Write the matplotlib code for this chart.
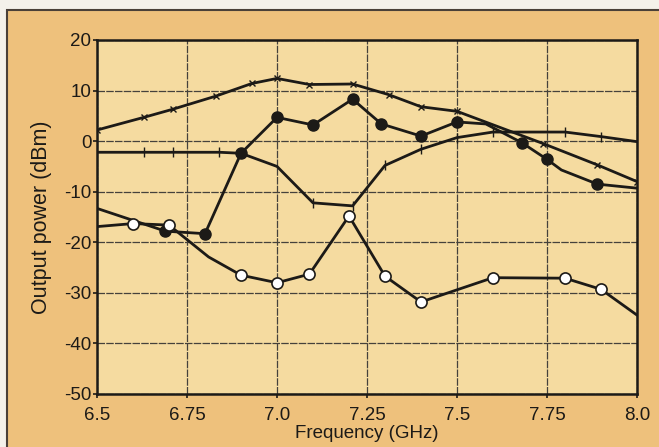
import matplotlib
matplotlib.use("Agg")
import matplotlib.pyplot as plt
from matplotlib.patches import Rectangle

plt.rcParams['font.family'] = ['Liberation Sans Narrow', 'Liberation Sans', 'DejaVu Sans']
plt.rcParams['axes.unicode_minus'] = False

# x-marker curve (top)
f_x = [6.5, 6.63, 6.71, 6.83, 6.93, 7.0, 7.09, 7.21, 7.31, 7.40, 7.50, 7.74, 7.89, 8.0]
p_x = [2.2, 4.7, 6.3, 8.9, 11.4, 12.4, 11.2, 11.3, 9.2, 6.8, 5.9, -0.5, -4.7, -8.0]

# filled-circle curve
f_fill = [6.5, 6.69, 6.8, 6.9, 7.0, 7.1, 7.21, 7.29, 7.4, 7.5, 7.58, 7.68, 7.75, 7.79, 7.89, 8.0]
p_fill = [-13.3, -17.8, -18.3, -2.4, 4.7, 3.2, 8.3, 3.4, 1.0, 3.8, 3.4, -0.3, -3.6, -5.7, -8.5, -9.3]
fill_marked = [1, 2, 3, 4, 5, 6, 7, 8, 9, 11, 12, 14]

# tick-marker curve
f_tick = [6.5, 6.63, 6.71, 6.84, 6.9, 7.0, 7.1, 7.21, 7.3, 7.4, 7.5, 7.6, 7.8, 7.9, 8.0]
p_tick = [-2.2, -2.2, -2.2, -2.2, -2.4, -5.0, -12.2, -12.8, -4.8, -1.6, 0.7, 1.8, 1.8, 0.9, -0.1]
tick_marked = [1, 2, 3, 6, 7, 8, 9, 10, 11, 12, 13]

# open-circle curve
f_open = [6.5, 6.6, 6.7, 6.81, 6.9, 7.0, 7.09, 7.2, 7.3, 7.4, 7.6, 7.8, 7.9, 8.0]
p_open = [-16.9, -16.3, -16.6, -22.9, -26.5, -28.0, -26.3, -14.8, -26.7, -31.8, -27.0, -27.1, -29.3, -34.4]
open_marked = [1, 2, 4, 5, 6, 7, 8, 9, 10, 11, 12]

x_ticks = [6.5, 6.75, 7.0, 7.25, 7.5, 7.75, 8.0]
x_labels = ['6.5', '6.75', '7.0', '7.25', '7.5', '7.75', '8.0']
y_ticks = [-50, -40, -30, -20, -10, 0, 10, 20]

ink = '#1c1a17'
fig = plt.figure(figsize=(6.59, 4.47), dpi=100)
fig.patch.set_facecolor('#f4f1ea')
# page panel behind the chart
fig.add_artist(Rectangle((7 / 659, -0.01), 1.0, 1 - 10 / 447 + 0.01,
                         transform=fig.transFigure, facecolor='#eec17c',
                         edgecolor='#4a4038', linewidth=1.5, zorder=-5))

ax = fig.add_axes([97 / 659, 1 - 394 / 447, 540 / 659, 354 / 447])
ax.set_zorder(1)
ax.set_facecolor('#f5dba0')

lw = 2.0
ax.plot(f_x, p_x, color=ink, lw=lw, marker='x', ms=4, mew=1.0, zorder=3)
ax.plot(f_tick, p_tick, color=ink, lw=lw, marker='|', ms=7, mew=1.0,
        markevery=tick_marked, zorder=3)
ax.plot(f_fill, p_fill, color=ink, lw=lw, marker='o', ms=8,
        markevery=fill_marked, zorder=4)
ax.plot(f_open, p_open, color=ink, lw=lw, marker='o', ms=8, mfc='white',
        mec=ink, mew=1.2, markevery=open_marked, zorder=5)

ax.set_xlim(6.5, 8.0)
ax.set_ylim(-50, 20)
ax.set_xticks(x_ticks)
ax.set_xticklabels(x_labels)
ax.set_yticks(y_ticks)
ax.grid(True, color='#45413b', lw=0.9, ls=(0, (6, 1)))
ax.set_axisbelow(True)
for s in ax.spines.values():
    s.set_color(ink)
    s.set_linewidth(1.8)
ax.tick_params(direction='out', length=3, width=1.2, colors=ink,
               labelsize=13.5)
ax.tick_params(axis='y', pad=1)
ax.tick_params(axis='x', pad=6)
ax.set_xlabel('Frequency (GHz)', fontsize=13.5, color=ink, labelpad=1)
ax.set_ylabel('Output power (dBm)', fontsize=15.5, color=ink, labelpad=9)

fig.savefig('out.png', dpi=100, facecolor=fig.get_facecolor())
